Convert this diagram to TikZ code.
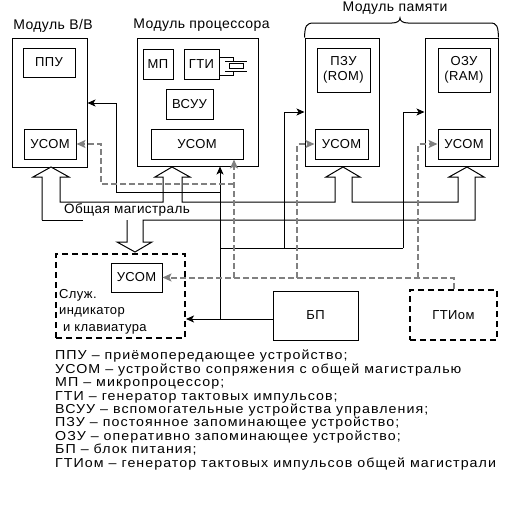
\documentclass[tikz,border=0pt]{standalone}
\usepackage{fontspec}
\setmainfont{Liberation Sans}
\newfontfamily\lblfont[LetterSpace=3]{Liberation Sans}
\newfontfamily\lgdfont[LetterSpace=8,FakeStretch=1.095]{Liberation Sans}
\usetikzlibrary{arrows.meta}
\definecolor{dgray}{RGB}{128,128,128}
\begin{document}
\begin{tikzpicture}[x=1pt,y=-1pt,
  lbl/.style={font=\lblfont\fontsize{13}{15}\selectfont},
  box/.style={draw,line width=1pt,inner sep=0pt,align=center,lbl},
  dbox/.style={draw,line width=2pt,dash pattern=on 6pt off 4pt,inner sep=0pt,align=center,lbl},
  pw/.style={line width=1pt,-{Stealth[length=8pt,width=7pt,inset=2pt]}},
  pwl/.style={line width=1pt},
  sg/.style={dgray,line width=2pt,dash pattern=on 6pt off 3pt,-{Stealth[length=9pt,width=8pt,inset=2pt]}},
  bus/.style={draw,line width=1pt,fill=white}]
\useasboundingbox (0,0) rectangle (510,522);
% modules
\node[box,minimum width=75pt,minimum height=129pt] (modVV) at (49.5,102.5) {};
\node[lbl,font=\lblfont\fontsize{14}{16}\selectfont] (tVV) at (53,26) {Модуль В/В};
\node[box,minimum width=52pt,minimum height=29pt] (ppu) at (49,62.5) {ППУ};
\node[box,minimum width=52pt,minimum height=30pt] (usomVV) at (50,144) {УСОМ};

\node[box,minimum width=121pt,minimum height=128pt] (modCPU) at (197.5,102) {};
\node[lbl,font=\lblfont\fontsize{14}{16}\selectfont] (tCPU) at (201.5,25) {Модуль процессора};
\node[box,minimum width=30pt,minimum height=30pt] (mp) at (158,64) {МП};
\node[box,minimum width=35pt,minimum height=30pt] (gti) at (201.5,64) {ГТИ};
\node[box,minimum width=47pt,minimum height=30pt] (vsuu) at (189.5,104) {ВСУУ};
\node[box,minimum width=92pt,minimum height=30pt] (usomCPU) at (197,144) {УСОМ};
% crystal
\draw[line width=1pt] (gti.east |- 0,57) -- (233,57) -- (233,61);
\draw[line width=1pt] (225,61) -- (247,61);
\draw[line width=1pt] (229,63.5) rectangle (243,68.5);
\draw[line width=1pt] (225,71) -- (247,71);
\draw[line width=1pt] (233,71) -- (233,75) -- (gti.east |- 0,75);

\node[box,minimum width=74pt,minimum height=128pt] (modROM) at (342,102) {};
\node[box,minimum width=53pt,minimum height=44pt] (rom) at (343.5,70) {ПЗУ\\(ROM)};
\node[box,minimum width=53pt,minimum height=30pt] (usomROM) at (341.5,144) {УСОМ};
\node[box,minimum width=73pt,minimum height=128pt] (modRAM) at (461.5,102) {};
\node[box,minimum width=52pt,minimum height=44pt] (ram) at (464,70) {ОЗУ\\(RAM)};
\node[box,minimum width=52pt,minimum height=30pt] (usomRAM) at (464,144) {УСОМ};
\node[lbl,font=\lblfont\fontsize{14}{16}\selectfont] (tMEM) at (395,8) {Модуль памяти};
\draw[line width=1pt] (modROM.north west) .. controls (305,26) and (306,23) .. (314,23) -- (392,23) .. controls (397,23) and (400,21) .. (400,18)
  .. controls (400,21) and (403,23) .. (408,23) -- (490,23) .. controls (497,23) and (498,26) .. (modRAM.north east);

% service
\node[dbox,minimum width=129pt,minimum height=84pt] (srv) at (120.5,296) {};
\node[box,minimum width=51pt,minimum height=29pt] (usomSrv) at (136.5,277.5) {УСОМ};
\node[lbl,anchor=north west,align=left,inner sep=0pt,font=\lblfont\fontsize{13}{16.5}\selectfont] (srvtxt) at (59,289) {Служ.\\индикатор\\\ и клавиатура};
\node[box,minimum width=85pt,minimum height=49pt] (bp) at (315.5,315.5) {БП};
\node[dbox,minimum width=87pt,minimum height=50pt] (gtiom) at (453.5,315) {ГТИом};

% bus
\path[bus] (42,220) -- (42,177) -- (33,177) -- (51,167) -- (69,177) -- (60,177) -- (60,202) -- (163,202) -- (163,177) -- (155,177) -- (172,167) -- (190,177) -- (182,177) -- (182,202)
  -- (335,202) -- (335,177) -- (326,177) -- (343,167) -- (360,177) -- (352,177) -- (352,202) -- (458,202) -- (458,177) -- (449,177) -- (467,167) -- (484,177) -- (475,177) -- (475,220)
  -- (143,220) -- (143,242) -- (152,242) -- (135,252) -- (117,242) -- (127,242) -- (127,220);
\draw[line width=1pt] (42,220) -- (83,220);
\node[lbl,font=\lblfont\fontsize{13.5}{15}\selectfont] (busl) at (127,210) {Общая магистраль};

% power
\coordinate (pb) at (273,319);
\coordinate (pj) at (220,319);
\draw[pw] (pb) -- (srv.east |- pb);
\draw[pw] (pj) -- (pj |- modCPU.south);
\draw[pw] (220,192) -- (116,192) -- (116,103) -- (modVV.east |- 0,103);
\draw[pwl] (220,248) -- (403,248);
\draw[pw] (284,248) -- (284,112) -- (modROM.west |- 0,112);
\draw[pw] (403,248) -- (403,112) -- (modRAM.west |- 0,112);

% sync
\draw[sg] (gtiom.north) |- (usomSrv.east);
\draw[sg] (234,277.5) -- (usomCPU.south -| 234,0);
\draw[sg] (297,277.5) |- (usomROM.west);
\draw[sg] (418,277.5) |- (usomRAM.west);
\draw[sg] (234,184) -- (101,184) |- (usomVV.east);

% legend
\node[anchor=north west,align=left,inner sep=0pt,font=\lgdfont\fontsize{13}{13.4}\selectfont] (legend) at (55,350) {ППУ – приёмопередающее устройство;\\
УСОМ – устройство сопряжения с общей магистралью\\
МП – микропроцессор;\\
ГТИ – генератор тактовых импульсов;\\
ВСУУ – вспомогательные устройства управления;\\
ПЗУ – постоянное запоминающее устройство;\\
ОЗУ – оперативно запоминающее устройство;\\
БП – блок питания;\\
ГТИом – генератор тактовых импульсов общей магистрали};
\end{tikzpicture}
\end{document}
